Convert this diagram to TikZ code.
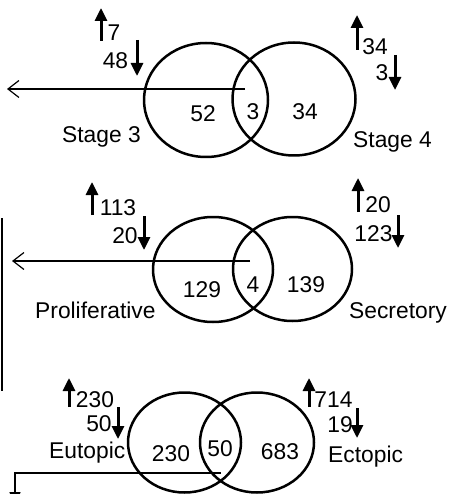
\documentclass[tikz,border=0pt]{standalone}
\usepackage{fontspec}
\setmainfont{Liberation Sans}
\usetikzlibrary{arrows.meta,shapes.geometric}
\begin{document}
\begin{tikzpicture}[x=1pt,y=-1pt,
  venn/.style={draw, ellipse, line width=2.5pt, inner sep=0pt},
  txt/.style={inner sep=0pt, font=\fontsize{22.8}{22.8}\selectfont},
  uparr/.style={line width=3pt, -{Triangle[length=13pt,width=12pt]}},
  outarr/.style={line width=1.2pt, -{Straight Barb[length=11pt,width=17pt,line width=1.2pt]}},
  downarr/.style={line width=3pt, -{Triangle[length=13pt,width=12pt]}}]
\clip (0,0) rectangle (449,494);
\fill[white] (0,0) rectangle (449,494);

% ---------- top: Stage 3 / Stage 4
\node[venn, minimum width=124pt, minimum height=114pt] (s3) at (206,100) {};
\node[venn, minimum width=123pt, minimum height=113pt] (s4) at (294,99) {};
\coordinate (a1s) at (245,89);
\coordinate (a1e) at (7,89);
\draw[outarr] (a1s) -- (a1e);
\node[txt] (n52) at (203,114) {52};
\node[txt] (n3) at (253,112) {3};
\node[txt] (n34) at (305,112) {34};
\coordinate (u1a) at (101,41); \coordinate (u1b) at (101,8);
\draw[uparr] (u1a) -- (u1b);
\node[txt] (t7) at (114,33) {7};
\node[txt] (t48) at (115.5,61) {48};
\coordinate (d1a) at (137,40); \coordinate (d1b) at (137,76);
\draw[downarr] (d1a) -- (d1b);
\node[txt, anchor=base west] (st3) at (62,143) {Stage 3};
\node[txt, anchor=base west] (st4) at (353,148) {Stage 4};
\coordinate (u2a) at (357,50); \coordinate (u2b) at (357,15);
\draw[uparr] (u2a) -- (u2b);
\node[txt] (t34) at (375,47) {34};
\node[txt] (t3) at (382,73) {3};
\coordinate (d2a) at (395,55); \coordinate (d2b) at (395,90);
\draw[downarr] (d2a) -- (d2b);

% ---------- middle: Proliferative / Secretory
\node[venn, minimum width=120pt, minimum height=105pt] (pr) at (213,269.5) {};
\node[venn, minimum width=119pt, minimum height=104pt] (se) at (292.5,269) {};
\coordinate (a2s) at (250,261);
\coordinate (a2e) at (12,261);
\draw[outarr] (a2s) -- (a2e);
\node[txt] (n129) at (202,289.5) {129};
\node[txt] (n4) at (253,285) {4};
\node[txt] (n139) at (306,285) {139};
\coordinate (u3a) at (92,215); \coordinate (u3b) at (92,182);
\draw[uparr] (u3a) -- (u3b);
\node[txt] (t113) at (118,208) {113};
\node[txt] (t20a) at (125,236) {20};
\coordinate (d3a) at (144,216); \coordinate (d3b) at (144,250);
\draw[downarr] (d3a) -- (d3b);
\node[txt, anchor=base west] (prl) at (35,318) {Proliferative};
\node[txt, anchor=base west] (sel) at (349,318) {Secretory};
\coordinate (u4a) at (358,212); \coordinate (u4b) at (358,178);
\draw[uparr] (u4a) -- (u4b);
\node[txt] (t20b) at (378,205) {20};
\node[txt] (t123) at (373.5,233.5) {123};
\coordinate (d4a) at (398,215); \coordinate (d4b) at (398,248);
\draw[downarr] (d4a) -- (d4b);

% left vertical bar
\coordinate (vb1) at (1.5,218); \coordinate (vb2) at (1.5,391);
\draw[line width=2pt] (vb1) -- (vb2);

% ---------- bottom: Eutopic / Ectopic
\node[venn, minimum width=113pt, minimum height=100pt] (eu) at (184.5,442.5) {};
\node[venn, minimum width=114pt, minimum height=100pt] (ec) at (257,442.5) {};
\coordinate (b1) at (221,473);
\coordinate (b2) at (15,473);
\coordinate (b3) at (15,506);
\draw[line width=1.2pt, -{Triangle[length=14pt,width=11pt]}] (b1) -- (b2) -- (b3);
\node[txt] (n230) at (171,453.5) {230};
\node[txt] (n50) at (220,449) {50};
\node[txt] (n683) at (280,452) {683};
\coordinate (u5a) at (69,407); \coordinate (u5b) at (69,378);
\draw[uparr] (u5a) -- (u5b);
\node[txt] (t230) at (95,400) {230};
\node[txt] (t50) at (99,424) {50};
\coordinate (d5a) at (118,407); \coordinate (d5b) at (118,439);
\draw[downarr] (d5a) -- (d5b);
\node[txt, anchor=base west] (eul) at (49,458) {Eutopic};
\node[txt, anchor=base west] (ecl) at (328,462) {Ectopic};
\coordinate (u6a) at (309,407); \coordinate (u6b) at (309,378);
\draw[uparr] (u6a) -- (u6b);
\node[txt] (t714) at (333.5,399.5) {714};
\node[txt] (t19) at (340,424.5) {19};
\coordinate (d6a) at (357,408); \coordinate (d6b) at (357,438);
\draw[downarr] (d6a) -- (d6b);
\end{tikzpicture}
\end{document}
